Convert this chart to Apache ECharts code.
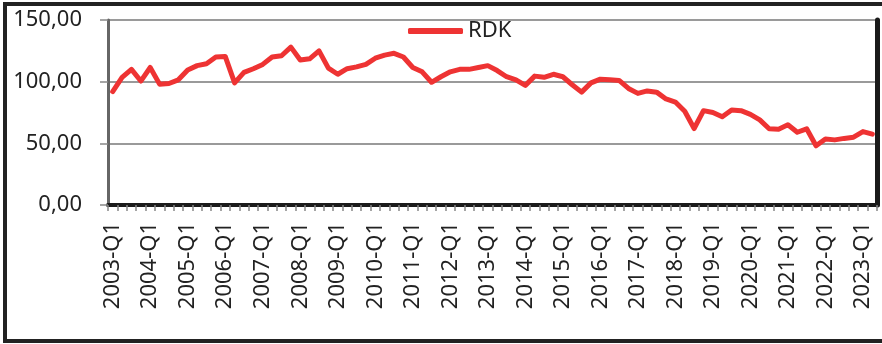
<!DOCTYPE html>
<html>
<head>
<meta charset="utf-8">
<style>
  html, body { margin: 0; padding: 0; background: #fff; }
  #chart { width: 882px; height: 344px; }
</style>
<script src="https://cdn.jsdelivr.net/npm/echarts@6/dist/echarts.min.js"></script>
</head>
<body>
<div id="chart"></div>
<script>
// Quarterly RDK index, 2003-Q1 to 2023-Q2
const years = [];
for (let y = 2003; y <= 2023; y++) years.push(y);
const quarters = ['Q1', 'Q2', 'Q3', 'Q4'];
const categories = [];
years.forEach(y => quarters.forEach(q => categories.push(y + '-' + q)));
categories.length = 82; // series ends at 2023-Q2

const rdkValues = [
  92.0, 103.5, 110.0, 100.5, 111.5, 98.0, 98.5, 101.5,
  109.5, 113.0, 114.5, 120.0, 120.5, 99.0, 107.5, 110.5,
  114.0, 120.0, 121.0, 128.0, 117.5, 118.5, 125.0, 111.0,
  106.0, 110.5, 112.0, 114.0, 119.0, 121.5, 123.0, 120.0,
  111.5, 108.0, 99.5, 104.0, 108.0, 110.0, 110.0, 111.5,
  113.0, 109.0, 104.0, 101.5, 97.0, 104.5, 103.5, 106.0,
  104.0, 97.5, 91.5, 99.0, 102.0, 101.5, 101.0, 94.5,
  90.5, 92.5, 91.5, 86.0, 83.5, 76.0, 62.0, 76.5,
  75.0, 71.5, 77.0, 76.5, 73.5, 69.0, 61.8, 61.5,
  65.0, 59.0, 61.8, 48.0, 53.5, 52.8, 54.0, 55.0,
  59.5, 57.5
];

const yTicks = { min: 0, max: 150, interval: 50 };

const chart = echarts.init(document.getElementById('chart'), null, { renderer: 'canvas' });

const labelFont = "'Noto Sans', 'DejaVu Sans', sans-serif";

chart.setOption({
  animation: false,
  graphic: [{
    type: 'rect',
    shape: { x: 5, y: 4, width: 900, height: 337 },
    style: { fill: 'none', stroke: '#222', lineWidth: 4 },
    z: 100
  }],
  legend: {
    data: ['RDK'],
    left: 408,
    top: 20,
    padding: 0,
    icon: 'roundRect',
    itemWidth: 55,
    itemHeight: 6,
    textStyle: { fontFamily: labelFont, fontSize: 22, color: '#222' }
  },
  grid: {
    left: 108,
    right: 5,
    top: 20,
    bottom: 139,
    outerBoundsMode: 'none'
  },
  xAxis: [{
    type: 'category',
    data: categories,
    boundaryGap: true,
    axisLine: { show: true, lineStyle: { color: '#666', width: 3 } },
    axisTick: { show: true, interval: 0, length: 6, lineStyle: { color: '#888', width: 1.5 } },
    axisLabel: {
      interval: 3,
      rotate: 90,
      margin: 17,
      fontFamily: labelFont,
      fontSize: 22,
      color: '#222'
    },
    splitLine: { show: false }
  }, {
    // top frame of the plot area
    type: 'category',
    position: 'top',
    data: categories,
    axisLine: { show: true, lineStyle: { color: '#1a1a1a', width: 4 } },
    axisTick: { show: false },
    axisLabel: { show: false }
  }],
  yAxis: [{
    type: 'value',
    min: yTicks.min,
    max: yTicks.max,
    interval: yTicks.interval,
    axisLine: { show: true, lineStyle: { color: '#666', width: 3 } },
    axisTick: { show: true, length: 8, lineStyle: { color: '#888', width: 1.5 } },
    axisLabel: {
      margin: 26,
      fontFamily: labelFont,
      fontSize: 22,
      color: '#222',
      formatter: v => v.toFixed(2).replace('.', ',')
    },
    splitLine: { show: true, lineStyle: { color: '#9a9a9a', width: 2 } }
  }, {
    // right frame of the plot area
    type: 'value',
    position: 'right',
    min: yTicks.min,
    max: yTicks.max,
    interval: yTicks.interval,
    axisLine: { show: true, lineStyle: { color: '#1a1a1a', width: 5 } },
    axisTick: { show: false },
    axisLabel: { show: false },
    splitLine: { show: false }
  }],
  series: [{
    name: 'RDK',
    type: 'line',
    data: rdkValues,
    symbol: 'none',
    smooth: false,
    lineStyle: { color: '#ee3333', width: 5, join: 'round', cap: 'round' },
    itemStyle: { color: '#ee3333' }
  }]
});
</script>
</body>
</html>
